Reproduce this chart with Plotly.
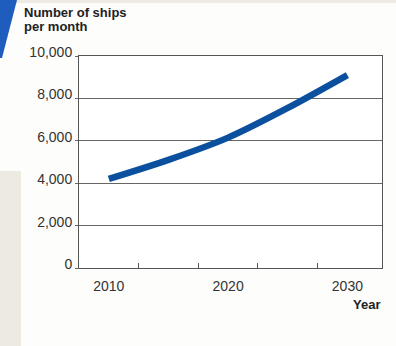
import plotly.graph_objects as go

years = [2010, 2015, 2020, 2025, 2030]
ships_per_month = [4200, 5100, 6150, 7550, 9100]
y_ticks = [0, 2000, 4000, 6000, 8000, 10000]
y_tick_labels = ["0", "2,000", "4,000", "6,000", "8,000", "10,000"]
x_label_years = [2010, 2020, 2030]
x_minor_ticks = [2012.5, 2017.5, 2022.5, 2027.5]

W, H = 396, 346
L, R, T, B = 79, 14, 56, 78
pw, ph = W - L - R, H - T - B

def px(x):
    return (x - L) / pw

def py(y):
    return (H - B - y) / ph

fig = go.Figure()
fig.add_trace(go.Scatter(
    x=years, y=ships_per_month, mode="lines",
    line=dict(color="#0B509F", width=6.5, shape="spline", smoothing=0.8),
    hoverinfo="skip", showlegend=False,
))
# empty trace on overlay axis that carries the year labels
fig.add_trace(go.Scatter(x=[], y=[], xaxis="x2", showlegend=False))

font_family = "Liberation Sans, Arial, sans-serif"

fig.update_layout(
    width=W, height=H,
    margin=dict(l=L, r=R, t=T, b=B, pad=0),
    paper_bgcolor="#FDFDFC",
    plot_bgcolor="#FFFFFF",
    font=dict(family=font_family, color="#333333", size=14),
    xaxis=dict(
        range=[2007.5, 2032.9], tickvals=x_minor_ticks, ticks="inside", ticklen=5,
        tickcolor="#555555", showticklabels=False, showgrid=False, zeroline=False,
        showline=True, linecolor="#555555", linewidth=1, mirror=True,
    ),
    xaxis2=dict(
        overlaying="x", matches="x", side="bottom", tickvals=x_label_years,
        ticktext=[str(v) for v in x_label_years], ticks="", showgrid=False,
        zeroline=False, showline=False, ticklabelstandoff=8,
        tickfont=dict(size=14, color="#333333"),
    ),
    yaxis=dict(
        range=[0, 10000], tickvals=y_ticks, ticktext=y_tick_labels,
        ticks="outside", ticklen=3, tickcolor="#666666", showgrid=True,
        gridcolor="#666666", gridwidth=1, zeroline=False, showline=True,
        linecolor="#555555", linewidth=1, mirror=True, ticklabelshift=-4,
        tickfont=dict(size=14, color="#333333"),
    ),
    shapes=[
        dict(type="rect", xref="paper", yref="paper", x0=px(0), x1=px(21),
             y0=py(H), y1=py(171), fillcolor="#ECEAE1", line=dict(width=0), layer="below"),
        dict(type="rect", xref="paper", yref="paper", x0=px(0), x1=px(W),
             y0=py(3), y1=py(0), fillcolor="#EEEBE2", line=dict(width=0), layer="below"),
        dict(type="path", xref="paper", yref="paper",
             path=f"M {px(0)},{py(0)} L {px(17)},{py(0)} L {px(2)},{py(58)} L {px(0)},{py(58)} Z",
             fillcolor="#1E5CBE", line=dict(width=0), layer="below"),
    ],
    annotations=[
        dict(text="Number of ships", xref="paper", yref="paper", x=px(22), y=py(12),
             xanchor="left", yanchor="middle", showarrow=False,
             font=dict(size=13, color="#222222", family=font_family, weight="bold")),
        dict(text="per month", xref="paper", yref="paper", x=px(22), y=py(27),
             xanchor="left", yanchor="middle", showarrow=False,
             font=dict(size=13, color="#222222", family=font_family, weight="bold")),
        dict(text="Year", xref="paper", yref="paper", x=1.0, y=py(304),
             xanchor="right", yanchor="middle", showarrow=False,
             font=dict(size=13, color="#222222", family=font_family, weight="bold")),
    ],
)

fig.write_html("out.html", config={"displayModeBar": False})

# remove the default browser page margin so the figure sits at (0,0)
with open("out.html", "r", encoding="utf-8") as f:
    html = f.read()
html = html.replace("<head>", "<head><style>html,body{margin:0;padding:0;overflow:hidden;}</style>", 1)
with open("out.html", "w", encoding="utf-8") as f:
    f.write(html)
